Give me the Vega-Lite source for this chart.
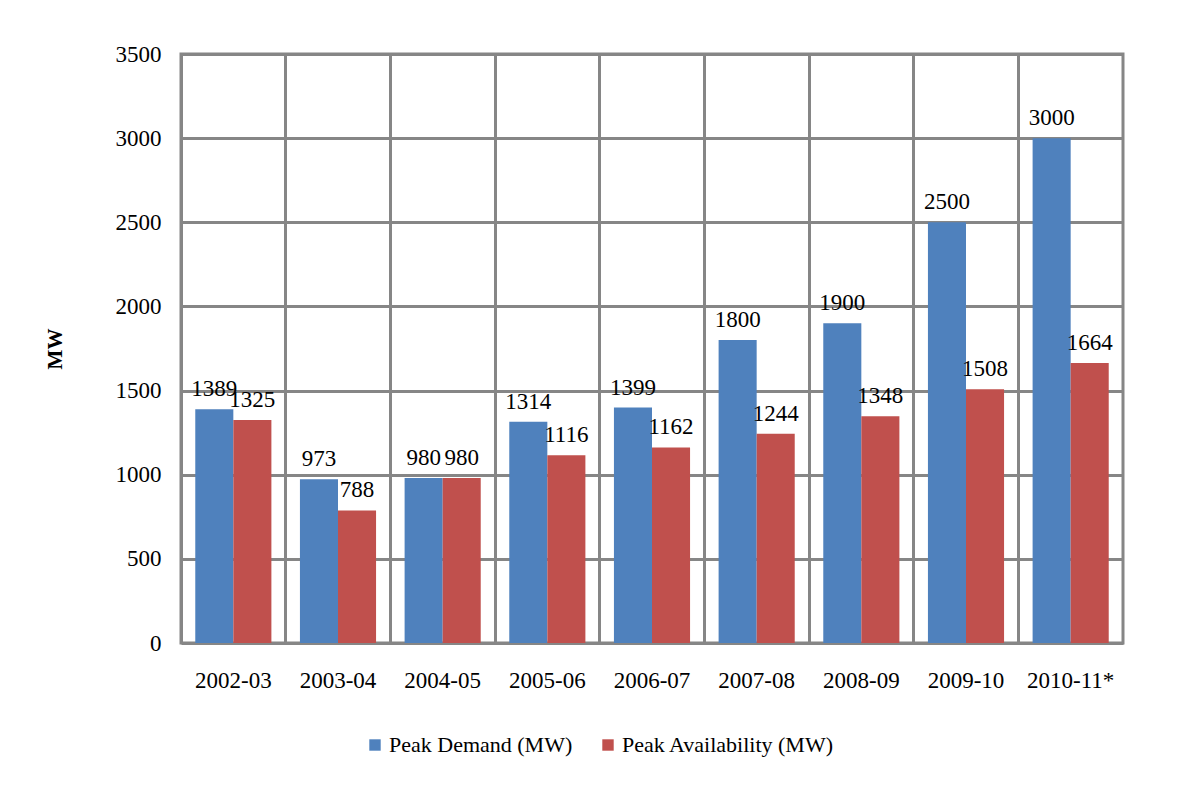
{
  "$schema": "https://vega.github.io/schema/vega-lite/v6.json",
  "autosize": "none",
  "width": 942,
  "height": 589,
  "padding": {"left": 181, "top": 54, "right": 58, "bottom": 152},
  "background": "white",
  "config": {
    "font": "Liberation Serif",
    "text": {"font": "Liberation Serif"},
    "view": {"stroke": "#868686", "strokeWidth": 3},
    "axis": {"labelFont": "Liberation Serif", "titleFont": "Liberation Serif", "labelColor": "#000000", "titleColor": "#000000"},
    "legend": {"labelFont": "Liberation Serif"}
  },
  "data": {
    "values": [
      {"year": "2002-03", "series": "Peak Demand (MW)", "value": 1389},
      {"year": "2002-03", "series": "Peak Availability (MW)", "value": 1325},
      {"year": "2003-04", "series": "Peak Demand (MW)", "value": 973},
      {"year": "2003-04", "series": "Peak Availability (MW)", "value": 788},
      {"year": "2004-05", "series": "Peak Demand (MW)", "value": 980},
      {"year": "2004-05", "series": "Peak Availability (MW)", "value": 980},
      {"year": "2005-06", "series": "Peak Demand (MW)", "value": 1314},
      {"year": "2005-06", "series": "Peak Availability (MW)", "value": 1116},
      {"year": "2006-07", "series": "Peak Demand (MW)", "value": 1399},
      {"year": "2006-07", "series": "Peak Availability (MW)", "value": 1162},
      {"year": "2007-08", "series": "Peak Demand (MW)", "value": 1800},
      {"year": "2007-08", "series": "Peak Availability (MW)", "value": 1244},
      {"year": "2008-09", "series": "Peak Demand (MW)", "value": 1900},
      {"year": "2008-09", "series": "Peak Availability (MW)", "value": 1348},
      {"year": "2009-10", "series": "Peak Demand (MW)", "value": 2500},
      {"year": "2009-10", "series": "Peak Availability (MW)", "value": 1508},
      {"year": "2010-11*", "series": "Peak Demand (MW)", "value": 3000},
      {"year": "2010-11*", "series": "Peak Availability (MW)", "value": 1664}
    ]
  },
  "encoding": {
    "x": {
      "field": "year", "type": "nominal", "sort": null,
      "scale": {"paddingInner": 0, "paddingOuter": 0},
      "axis": {"title": null, "labelAngle": 0, "labelFontSize": 23, "labelPadding": 26, "ticks": false, "domain": false,
        "grid": true, "bandPosition": 0, "gridColor": "#868686", "gridWidth": 3, "gridOpacity": 1}
    },
    "xOffset": {
      "field": "series", "type": "nominal",
      "sort": ["Peak Demand (MW)", "Peak Availability (MW)"],
      "scale": {"paddingInner": 0, "paddingOuter": 0.375}
    },
    "y": {
      "field": "value", "type": "quantitative",
      "scale": {"domain": [0, 3500], "nice": false},
      "axis": {"title": "MW", "titleFontSize": 21, "titleFontWeight": "bold", "titleAngle": -90, "titleX": -126, "titleY": 294.5,
        "titleAlign": "center", "titleBaseline": "middle", "format": "d",
        "values": [0, 500, 1000, 1500, 2000, 2500, 3000, 3500], "labelFontSize": 23, "labelPadding": 20,
        "ticks": false, "domain": false, "grid": true, "gridColor": "#868686", "gridWidth": 3, "gridOpacity": 1}
    }
  },
  "layer": [
    {
      "mark": {"type": "bar"},
      "encoding": {
        "color": {
          "field": "series", "type": "nominal",
          "sort": ["Peak Demand (MW)", "Peak Availability (MW)"],
          "scale": {"domain": ["Peak Demand (MW)", "Peak Availability (MW)"], "range": ["#4F81BD", "#C0504D"]},
          "legend": {"title": null, "orient": "none", "direction": "horizontal", "legendX": 183, "legendY": 680,
            "symbolType": "square", "symbolSize": 130, "symbolStrokeWidth": 0, "labelFontSize": 22, "labelOffset": 3,
            "columnPadding": 24, "labelLimit": 400, "labelColor": "#000000", "labelFont": "Liberation Serif"}
        }
      }
    },
    {
      "mark": {"type": "text", "baseline": "bottom", "dy": -8, "fontSize": 23, "color": "#000000", "font": "Liberation Serif"},
      "encoding": {"text": {"field": "value", "type": "quantitative", "format": "d"}}
    }
  ]
}
